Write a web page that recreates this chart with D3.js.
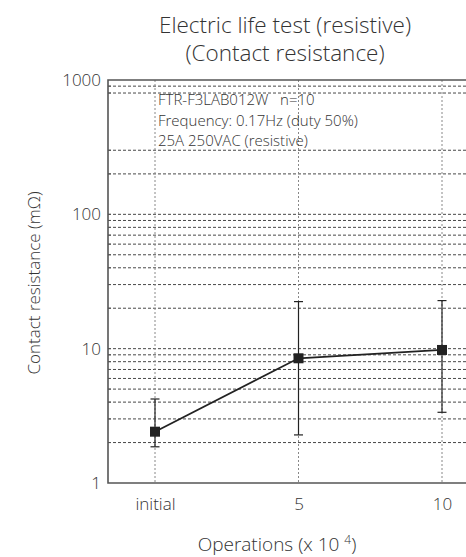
<!DOCTYPE html>
<html>
<head>
<meta charset="utf-8">
<script src="https://cdn.jsdelivr.net/npm/d3@7"></script>
<style>
  body { margin: 0; background: #fff; }
  text { font-family: "Open Sans", sans-serif; font-weight: 350; fill: #333; white-space: pre; }
</style>
</head>
<body>
<svg id="chart" width="466" height="557"></svg>
<script>
// data
const categories = ["initial", "5", "10"];
const meanValues = [2.41, 8.48, 9.78];
const maxValues = [4.22, 22.4, 22.8];
const minValues = [1.86, 2.28, 3.36];
const yTicks = [1, 10, 100, 1000];
const gridValues = [2, 3, 4, 5, 6, 7, 8, 9, 10, 20, 30, 40, 50, 60, 70, 80, 90, 100, 200, 300, 800, 900];
const noteLines = ["FTR-F3LAB012W   n=10", "Frequency: 0.17Hz (duty 50%)", "25A 250VAC (resistive)"];

const svg = d3.select('#chart');
const plotLeft = 108, plotRight = 466, plotTop = 80, plotBottom = 483;

const yScale = d3.scaleLog().domain([1, 1000]).range([plotBottom, plotTop]);
const xScale = d3.scalePoint().domain(categories).range([155, 442]);

// horizontal dashed grid
svg.append('g')
    .selectAll('line')
    .data(gridValues)
    .enter()
    .append('line')
    .attr('x1', plotLeft).attr('x2', plotRight)
    .attr('y1', d => yScale(d)).attr('y2', d => yScale(d))
    .attr('stroke', '#333')
    .attr('stroke-width', 0.9)
    .attr('stroke-dasharray', '3,2');

// vertical dotted grid
svg.append('g')
    .selectAll('line')
    .data(categories)
    .enter()
    .append('line')
    .attr('x1', d => xScale(d)).attr('x2', d => xScale(d))
    .attr('y1', plotTop).attr('y2', plotBottom)
    .attr('stroke', '#888')
    .attr('stroke-width', 1)
    .attr('stroke-dasharray', '2,2');

// frame: top, left, bottom
svg.append('path')
    .attr('d', `M${plotRight},${plotTop}H${plotLeft}V${plotBottom}H${plotRight}`)
    .attr('fill', 'none')
    .attr('stroke', '#555')
    .attr('stroke-width', 1.6);

// y axis
const yAxis = d3.axisLeft(yScale)
    .tickValues(yTicks)
    .tickFormat(d3.format('d'))
    .tickSize(0)
    .tickPadding(7);
const yAxisG = svg.append('g')
    .attr('transform', `translate(${plotLeft},0)`)
    .call(yAxis);
yAxisG.select('.domain').remove();
yAxisG.selectAll('text')
    .style('font-family', '"Open Sans", sans-serif')
    .style('font-size', '17px')
    .attr('fill', '#333');

// minor ticks on the inside of the y axis
svg.append('g')
    .selectAll('line')
    .data(gridValues)
    .enter()
    .append('line')
    .attr('x1', plotLeft).attr('x2', plotLeft + 3)
    .attr('y1', d => yScale(d)).attr('y2', d => yScale(d))
    .attr('stroke', '#555');

// x axis labels
const xAxis = d3.axisBottom(xScale).tickSize(0).tickPadding(15);
const xAxisG = svg.append('g')
    .attr('transform', `translate(0,${plotBottom})`)
    .call(xAxis);
xAxisG.select('.domain').remove();
xAxisG.selectAll('text')
    .style('font-family', '"Open Sans", sans-serif')
    .style('font-size', '17px')
    .attr('fill', '#333');

// notes
svg.append('g')
    .selectAll('text')
    .data(noteLines)
    .enter()
    .append('text')
    .attr('x', 158)
    .attr('y', (d, i) => 105 + i * 20.5)
    .style('font-size', '15px')
    .text(d => d);

// error bars
const bars = svg.append('g');
categories.forEach((c, i) => {
    const x = xScale(c);
    bars.append('line')
        .attr('x1', x).attr('x2', x)
        .attr('y1', yScale(maxValues[i])).attr('y2', yScale(minValues[i]))
        .attr('stroke', '#222').attr('stroke-width', 1.2);
    [maxValues[i], minValues[i]].forEach(v => {
        bars.append('line')
            .attr('x1', x - 4.5).attr('x2', x + 4.5)
            .attr('y1', yScale(v)).attr('y2', yScale(v))
            .attr('stroke', '#222').attr('stroke-width', 1.2);
    });
});

// mean line
const line = d3.line()
    .x((d, i) => xScale(categories[i]))
    .y(d => yScale(d));
svg.append('path')
    .datum(meanValues)
    .attr('d', line)
    .attr('fill', 'none')
    .attr('stroke', '#222')
    .attr('stroke-width', 1.8);

// markers
svg.append('g')
    .selectAll('rect')
    .data(meanValues)
    .enter()
    .append('rect')
    .attr('x', (d, i) => xScale(categories[i]) - 5)
    .attr('y', d => yScale(d) - 5)
    .attr('width', 10)
    .attr('height', 10)
    .attr('fill', '#222');

// titles
svg.append('text')
    .attr('x', 285).attr('y', 33)
    .attr('text-anchor', 'middle')
    .style('font-size', '22.5px')
    .text('Electric life test (resistive)');
svg.append('text')
    .attr('x', 285).attr('y', 61)
    .attr('text-anchor', 'middle')
    .style('font-size', '22.5px')
    .text('(Contact resistance)');

svg.append('text')
    .attr('transform', 'translate(40,283) rotate(-90)')
    .attr('text-anchor', 'middle')
    .style('font-size', '17px')
    .text('Contact resistance (mΩ)');

const xLabel = svg.append('text')
    .attr('x', 277).attr('y', 551)
    .attr('text-anchor', 'middle')
    .style('font-size', '19px');
xLabel.append('tspan').text('Operations (x 10 ');
xLabel.append('tspan').attr('dy', -7).style('font-size', '12px').text('4');
xLabel.append('tspan').attr('dy', 7).text(')');
</script>
</body>
</html>
